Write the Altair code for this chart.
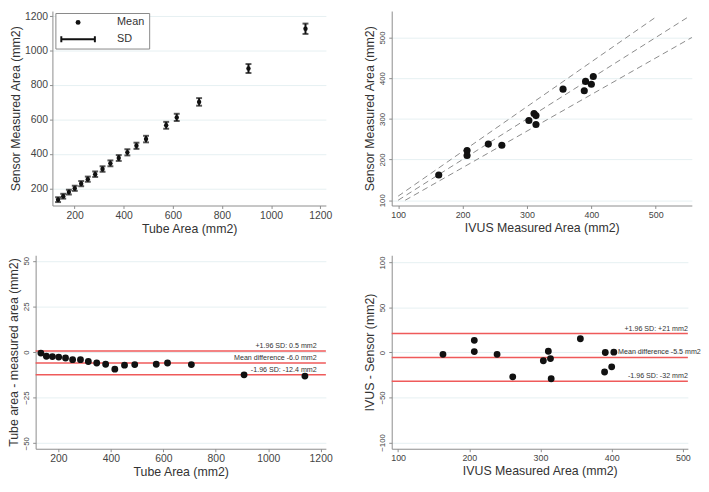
import altair as alt
import pandas as pd

FONT = "Liberation Sans"

# ---------- Panel A: tube phantom, sensor mean +/- SD ----------
tube_area = [133, 154, 177, 201, 227, 254, 284, 314, 346, 380, 415, 452, 491, 573, 616, 707, 908, 1140]
sensor_mean = [134, 154, 178, 200, 227, 253, 282, 312, 345, 376, 409, 447, 486, 566, 612, 702, 896, 1127]
sensor_sd = [14, 14, 14, 15, 15, 15, 16, 16, 17, 17, 18, 18, 19, 20, 21, 22, 26, 30]

# ---------- Panel B: IVUS vs sensor ----------
ivus_area = [163, 207, 207, 240, 261, 303, 311, 314, 314, 356, 389, 391, 400, 403]
sensor_area = [162, 222, 210, 238, 235, 296, 313, 308, 286, 373, 369, 392, 385, 404]
ref_x1 = [100, 100, 111]
ref_y1 = [110, 100, 100]
ref_x2 = [500, 550, 556]
ref_y2 = [550, 550, 500]

# ---------- Panel C: Bland-Altman tube ----------
tube_diff = [-0.6, -2.3, -2.5, -2.8, -3.3, -4.2, -4.2, -5.2, -6.0, -6.7, -9.4, -7.2, -6.9, -6.7, -6.0, -6.9, -12.5, -13.2]
c_lines = [0.5, -6.0, -12.4]
c_labels = ["+1.96 SD: 0.5 mm2", "Mean difference -6.0 mm2", "-1.96 SD: -12.4 mm2"]
c_label_x = [1185, 1185, 1185]

# ---------- Panel D: Bland-Altman IVUS ----------
ivus_area_d = [163, 207, 207, 239, 261, 304, 311, 314, 315, 356, 390, 391, 400, 403]
ivus_diff = [-2.1, 13.5, 1.0, -2.1, -27.1, -9.2, 1.3, -6.8, -29.2, 15.2, -21.7, 0.0, -16.0, 0.3]
d_lines = [21, -5.5, -32]
d_labels = ["+1.96 SD: +21 mm2", "Mean difference -5.5 mm2", "-1.96 SD: -32 mm2"]
d_label_x = [507, 409, 507]
d_label_align = ["right", "left", "right"]

RED = "#ef5a5a"
DOT = "#111111"
AXC = "#8c8c8c"
TITLE_FS = 12.5
SHIFT = 17          # extra left indent of panel A inside its cell
A_W, A_H = 277, 197
B_W, B_H = 304, 197
C_W, C_H = 294, 196
D_W, D_H = 300, 196


def yaxis(values, title, rotated=False, size=10.5, **extra):
    kw = dict(values=values, title=title, grid=True, format="d", labelOverlap=False,
              labelFontSize=size)
    if rotated:
        kw.update(labelAngle=-90, labelAlign="center", labelBaseline="bottom")
    kw.update(extra)
    return alt.Axis(**kw)


def xaxis(values, title, size=10.5):
    return alt.Axis(values=values, title=title, grid=False, format="d",
                    labelOverlap=False, labelFontSize=size)


# Panel A
dfa = pd.DataFrame({"tube": tube_area, "mean": sensor_mean, "sd": sensor_sd})
dfa["lo"] = dfa["mean"] - dfa["sd"]
dfa["hi"] = dfa["mean"] + dfa["sd"]
dfa["lbl"] = "Mean"
xa_scale = alt.Scale(domain=[110, 1223], nice=False, zero=False, range=[SHIFT, SHIFT + A_W])
ya_scale = alt.Scale(domain=[100, 1230], nice=False, zero=False)
xa_axis = xaxis([200, 400, 600, 800, 1000, 1200], "Tube Area (mm2)")
ya_axis = yaxis([200, 400, 600, 800, 1000, 1200], "Sensor Measured Area (mm2)", offset=-SHIFT)
sd_path = "M-7.2,-0.4H7.2V0.4H-7.2Z M-7.2,-1.2H-6.4V1.2H-7.2Z M6.4,-1.2H7.2V1.2H6.4Z"
a_bars = alt.Chart(dfa).mark_errorbar(ticks={"size": 6, "thickness": 2}, thickness=2, color=DOT).encode(
    x=alt.X("tube:Q", scale=xa_scale, axis=xa_axis),
    y=alt.Y("lo:Q", scale=ya_scale, axis=ya_axis),
    y2="hi:Q",
)
a_pts = alt.Chart(dfa).mark_point(filled=True, size=20, opacity=1, color=DOT).encode(
    x=alt.X("tube:Q", scale=xa_scale, axis=xa_axis),
    y=alt.Y("mean:Q", scale=ya_scale, axis=ya_axis),
    shape=alt.Shape("lbl:N",
                    scale=alt.Scale(domain=["Mean", "SD"], range=["circle", sd_path]),
                    legend=alt.Legend(orient="none", legendX=SHIFT + 3, legendY=2, title=None,
                                      strokeColor="#888", fillColor="white", padding=4,
                                      symbolFillColor=DOT, symbolStrokeWidth=0,
                                      symbolSize=25, symbolOpacity=1,
                                      symbolOffset=13.5, labelOffset=34, rowPadding=5,
                                      labelFontSize=11, labelFont=FONT, labelColor="#333")),
)
panel_a = alt.layer(a_bars, a_pts).properties(width=A_W + SHIFT, height=A_H)

# Panel B
dfb = pd.DataFrame({"ivus": ivus_area, "sensor": sensor_area})
dfr = pd.DataFrame({"x1": ref_x1, "y1": ref_y1, "x2": ref_x2, "y2": ref_y2})
xb_scale = alt.Scale(domain=[90, 556], nice=False, zero=False)
yb_scale = alt.Scale(domain=[87, 565], nice=False, zero=False)
xb_axis = xaxis([100, 200, 300, 400, 500], "IVUS Measured Area (mm2)", size=9)
yb_axis = yaxis([100, 200, 300, 400, 500], "Sensor Measured Area (mm2)", rotated=True, size=8)
b_ref = alt.Chart(dfr).mark_rule(strokeDash=[6, 4], color="#8a8a8a", strokeWidth=1).encode(
    x=alt.X("x1:Q", scale=xb_scale, axis=xb_axis),
    y=alt.Y("y1:Q", scale=yb_scale, axis=yb_axis),
    x2="x2:Q", y2="y2:Q",
)
b_pts = alt.Chart(dfb).mark_circle(size=52, opacity=1, color=DOT).encode(
    x=alt.X("ivus:Q", scale=xb_scale, axis=xb_axis),
    y=alt.Y("sensor:Q", scale=yb_scale, axis=yb_axis))
panel_b = alt.layer(b_ref, b_pts).properties(width=B_W, height=B_H)

# Panel C
dfc = pd.DataFrame({"tube": tube_area, "diff": tube_diff})
dfcl = pd.DataFrame({"v": c_lines, "label": c_labels, "x": c_label_x})
xc_scale = alt.Scale(domain=[113, 1220], nice=False, zero=False)
yc_scale = alt.Scale(domain=[-53, 53], nice=False, zero=False)
xc_axis = xaxis([200, 400, 600, 800, 1000, 1200], "Tube Area (mm2)")
yc_axis = yaxis([-50, -25, 0, 25, 50], "Tube area - measured area (mm2)", rotated=True, size=8)
c_pts = alt.Chart(dfc).mark_circle(size=48, opacity=1, color=DOT).encode(
    x=alt.X("tube:Q", scale=xc_scale, axis=xc_axis),
    y=alt.Y("diff:Q", scale=yc_scale, axis=yc_axis))
c_rules = alt.Chart(dfcl).mark_rule(color=RED, strokeWidth=1.5).encode(
    y=alt.Y("v:Q", scale=yc_scale, axis=yc_axis))
c_text = alt.Chart(dfcl).mark_text(align="right", baseline="bottom", dy=-1, fontSize=7.2,
                                   font=FONT, color="#333").encode(
    x=alt.X("x:Q", scale=xc_scale, axis=xc_axis),
    y=alt.Y("v:Q", scale=yc_scale, axis=yc_axis), text="label:N")
panel_c = alt.layer(c_rules, c_pts, c_text).properties(width=C_W, height=C_H)

# Panel D
dfd = pd.DataFrame({"ivus": ivus_area_d, "diff": ivus_diff})
dfdl = pd.DataFrame({"v": d_lines, "label": d_labels, "x": d_label_x, "align": d_label_align})
xd_scale = alt.Scale(domain=[91, 507], nice=False, zero=False)
yd_scale = alt.Scale(domain=[-107, 108], nice=False, zero=False)
xd_axis = xaxis([100, 200, 300, 400, 500], "IVUS Measured Area (mm2)", size=9)
yd_axis = yaxis([-100, -50, 0, 50, 100], "IVUS - Sensor (mm2)", rotated=True, size=8)
d_pts = alt.Chart(dfd).mark_circle(size=48, opacity=1, color=DOT).encode(
    x=alt.X("ivus:Q", scale=xd_scale, axis=xd_axis),
    y=alt.Y("diff:Q", scale=yd_scale, axis=yd_axis))
d_rules = alt.Chart(dfdl).mark_rule(color=RED, strokeWidth=1.5).encode(
    y=alt.Y("v:Q", scale=yd_scale, axis=yd_axis))
d_text_r = alt.Chart(dfdl).transform_filter(alt.datum.align == "right").mark_text(
    align="right", baseline="bottom", dy=-1, fontSize=7.2, font=FONT, color="#333").encode(
    x=alt.X("x:Q", scale=xd_scale, axis=xd_axis),
    y=alt.Y("v:Q", scale=yd_scale, axis=yd_axis), text="label:N")
d_text_l = alt.Chart(dfdl).transform_filter(alt.datum.align == "left").mark_text(
    align="left", baseline="bottom", dy=-1, fontSize=7.2, font=FONT, color="#333").encode(
    x=alt.X("x:Q", scale=xd_scale, axis=xd_axis),
    y=alt.Y("v:Q", scale=yd_scale, axis=yd_axis), text="label:N")
panel_d = alt.layer(d_rules, d_pts, d_text_r, d_text_l).properties(width=D_W, height=D_H)

chart = alt.concat(panel_a, panel_b, panel_c, panel_d, columns=2).properties(
    align="none", spacing={"row": 20.4, "column": 31.7}, padding=0
).configure(
    font=FONT
).configure_view(stroke=None).configure_axis(
    labelFont=FONT, titleFont=FONT, titleFontSize=TITLE_FS, labelOverlap=False,
    titleFontWeight="normal", labelColor="#444", titleColor="#333",
    domainColor=AXC, tickColor=AXC, tickSize=3, labelPadding=2, titlePadding=2,
    gridColor="#e6f0f2", gridWidth=1,
)

chart.save("out.html", embed_options={"renderer": "svg", "actions": False})
